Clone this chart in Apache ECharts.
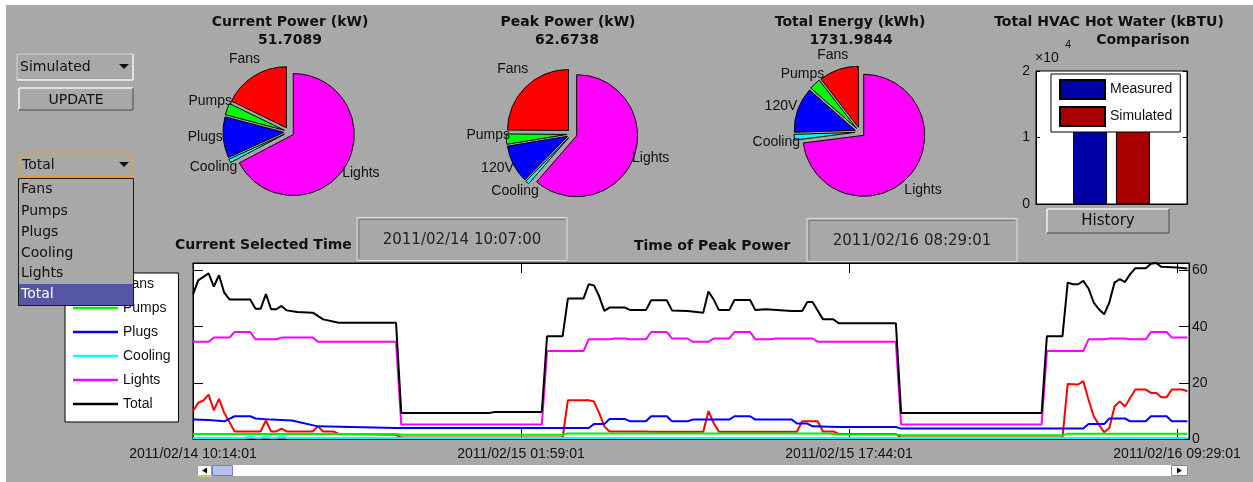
<!DOCTYPE html>
<html>
<head>
<meta charset="utf-8">
<script src="https://cdn.jsdelivr.net/npm/echarts@6/dist/echarts.min.js"></script>
<style>
html,body{margin:0;padding:0;background:#fff;}
#wrap{position:relative;width:1253px;height:482px;background:#fff;overflow:hidden;}
#panel{position:absolute;left:6px;top:5px;right:0;bottom:0;background:#a8a8a8;}
#chart{position:absolute;left:0;top:0;width:1253px;height:482px;}
</style>
</head>
<body>
<div id="wrap"><div id="panel"></div><div id="chart"></div></div>
<script>
// ---------------- DATA ----------------
const pieCategories = ['Fans', 'Pumps', 'Plugs', 'Cooling', 'Lights'];
const pieLabelsPeak = ['Fans', 'Pumps', '120V', 'Cooling', 'Lights'];
const currentPowerValues = [9.2, 1.6, 5.6, 0.5, 34.8];
const peakPowerValues = [15.6, 1.7, 6.3, 0.6, 38.47];
const totalEnergyValues = [182, 52, 208, 26, 1264];
const currentPowerTotal = '51.7089';
const peakPowerTotal = '62.6738';
const totalEnergyTotal = '1731.9844';

const hvacCategories = ['Measured', 'Simulated'];
const hvacValues = [12300, 12100];
const hvacTickLabels = ['0', '1', '2'];

const timeTickLabels = ['2011/02/14 10:14:01', '2011/02/15 01:59:01', '2011/02/15 17:44:01', '2011/02/16 09:29:01'];
const currentSelectedTime = '2011/02/14 10:07:00';
const peakPowerTime = '2011/02/16 08:29:01';
const dropdownItems = ['Fans', 'Pumps', 'Plugs', 'Cooling', 'Lights', 'Total'];

// [15-minute step index, kW]
const fansLine = [[0,9.9],[1,12.9],[2,13.7],[3,15.8],[4,10.2],[5,14.3],[6,9.3],[8,2.7],[13,2.7],[14,6.6],[15,2.7],[16,2.7],[17,3.7],[18,2.7],[23,2.7],[24,4.5],[25,2.7],[27,2.7],[28,1.8],[39,1.5],[40,0.5],[71,0.5],[72,13.8],[76,13.8],[77,13.4],[78,9.3],[79,4.5],[80,2.7],[87,2.7],[88,2.6],[98,2.6],[99,9.9],[100,5.7],[101,2.6],[116,2.6],[117,6.3],[120,6.3],[121,2.7],[123,2.7],[124,1.8],[135,1.8],[136,0.5],[167,0.5],[168,19.6],[170,19.4],[171,20.6],[172,14],[173,8.1],[174,5.1],[175,2.4],[176,3.9],[177,11.6],[178,13.4],[179,11.6],[180,14.6],[181,17.6],[183,17.6],[184,16.4],[185,16.4],[186,14.9],[187,14.9],[188,17.6],[190,17.6],[191,17]];
const pumpsLine = [[0,1.8],[39,1.8],[40,1.5],[71,1.5],[72,2.0],[122,2.0],[124,1.6],[135,1.6],[136,1.3],[167,1.3],[168,1.9],[191,1.9]];
const plugsLine = [[0,6.9],[3,6.8],[6,6.3],[8,8.1],[11,8.1],[12,7.3],[15,6.9],[19,6.6],[24,4.5],[39,3.9],[76,3.9],[77,5.3],[79,5.3],[80,7.1],[83,7.1],[84,6.3],[87,6.3],[88,8.1],[91,8.1],[92,6.3],[95,6.3],[96,6.9],[103,6.9],[104,8.1],[107,8.1],[108,6.9],[115,6.9],[116,5.5],[118,5.5],[119,4.5],[124,4.3],[135,4.3],[136,3.7],[171,3.7],[172,5.3],[175,5.3],[176,7.3],[179,7.3],[180,6.3],[183,6.3],[184,8.1],[187,8.1],[188,6.3],[191,6.3]];
const coolingLine = [[0,0.4],[10,0.4],[11,0.9],[12,0.4],[13,0.4],[14,0.9],[15,0.4],[16,0.4],[17,0.9],[18,0.4],[191,0.4]];
const lightsLine = [[0,34.6],[3,34.6],[4,36.1],[7,36.1],[8,38.1],[11,38.1],[12,35.5],[16,35.5],[17,36.1],[23,36.1],[24,34.6],[39,34.6],[40,5.2],[67,5.2],[68,31.3],[75,31.3],[76,35.5],[80,35.5],[81,35.8],[83,35.8],[84,35.5],[87,35.5],[88,38.1],[91,38.1],[92,35.8],[95,35.8],[96,34.6],[99,34.6],[100,35.8],[103,35.8],[104,38.1],[107,38.1],[108,35.5],[111,35.5],[112,35.8],[119,35.8],[120,34.6],[135,34.6],[136,5.2],[163,5.2],[164,31.3],[171,31.3],[172,35.5],[175,35.5],[176,35.8],[179,35.8],[180,35.5],[183,35.5],[184,38.1],[187,38.1],[188,36.1],[191,36.1]];
const totalLine = [[0,51.5],[1,56.5],[3,59],[4,54.3],[5,58.3],[6,52.1],[7,49.7],[11,49.7],[12,46.4],[13,46.4],[14,51.6],[15,46.2],[16,46.2],[17,47.4],[18,45.8],[20,45.2],[23,45],[25,42.6],[28,41.4],[39,41.4],[40,9.3],[57,9.3],[58,9.6],[67,9.6],[68,36.6],[71,36.6],[72,50],[75,50],[76,55.1],[77,54.7],[78,50.9],[79,45.6],[80,46.8],[83,46.8],[84,45.9],[87,45.9],[88,49.4],[91,49.4],[92,45.8],[95,45.6],[98,45],[99,52.5],[100,49.7],[101,45.9],[103,45.9],[104,49.5],[107,49.5],[108,45.9],[110,46.2],[115,45.6],[117,45.6],[118,48.8],[119,48.8],[121,42.6],[123,42.6],[124,41.2],[135,41.2],[136,9.3],[163,9.3],[164,36.6],[167,36.6],[168,55.7],[169,55.1],[170,55.1],[171,56.3],[172,53.6],[173,48.6],[174,46.2],[175,44.4],[176,48.6],[177,55.7],[178,56.9],[179,55.9],[180,58.7],[181,60.8],[183,60.8],[184,62.4],[185,62.67],[186,61.3],[189,61.1],[191,60.7]];

// ---------------- STYLE / LAYOUT ----------------
const GRAY = '#a8a8a8';
const INK = '#111';
const SERIF_UI = '"DejaVu Sans", sans-serif';
const HELV = '"Liberation Sans", Arial, sans-serif';
const pieColors = ['#ff0000', '#00ff00', '#0000ff', '#00ffff', '#ff00ff'];
const lineColors = {Fans:'#ff0000', Pumps:'#00ee00', Plugs:'#0000ff', Cooling:'#00ffff', Lights:'#ff00ff', Total:'#000000'};
const STEP_TICK = 63;
const PIE_R = 61;
const PIE_LABEL_R = 84;

const chart = echarts.init(document.getElementById('chart'), null, {renderer: 'canvas'});

// exploded pie (slices) + transparent twin pie carrying the labels
function makePie(center, names, values, labelDy) {
  const tot = values.reduce((a, b) => a + b, 0);
  const base = {
    type: 'pie', center: center, radius: PIE_R, startAngle: 90, clockwise: false,
    avoidLabelOverlap: false, silent: true, emphasis: {disabled: true}
  };
  const slices = Object.assign({}, base, {
    selectedMode: 'multiple', selectedOffset: 5,
    label: {show: false}, labelLine: {show: false},
    itemStyle: {borderColor: '#000', borderWidth: 1},
    data: names.map((n, i) => ({name: n, value: values[i], selected: true, itemStyle: {color: pieColors[i]}}))
  });
  const labels = Object.assign({}, base, {
    selectedMode: false,
    itemStyle: {color: 'rgba(0,0,0,0)', borderWidth: 0},
    label: {show: true, position: 'outside', color: INK, fontFamily: HELV, fontSize: 14},
    labelLine: {show: false, length: 0, length2: 0},
    labelLayout: function (p) {
      const i = p.dataIndex;
      let before = 0;
      for (let j = 0; j < i; j++) before += values[j];
      const a = (before + values[i] / 2) / tot * Math.PI * 2;
      return {x: center[0] - PIE_LABEL_R * Math.sin(a), y: center[1] + labelDy - PIE_LABEL_R * Math.cos(a), align: 'center', verticalAlign: 'middle'};
    },
    data: names.map((n, i) => ({name: n, value: values[i]}))
  });
  return [slices, labels];
}

const G = [];
function T(x, y, text, o) {
  o = o || {};
  G.push({type: 'text', x: x, y: y, z: 100, silent: true, style: {
    text: text, fill: o.fill || INK, font: o.font || ('14px ' + SERIF_UI),
    textAlign: o.align || 'left', textVerticalAlign: 'middle', align: o.align || 'left', verticalAlign: 'middle'
  }});
}
function R(x, y, w, h, fill, stroke, lw) {
  G.push({type: 'rect', z: 100, silent: true, shape: {x: x, y: y, width: w, height: h},
    style: {fill: fill || 'none', stroke: stroke || 'none', lineWidth: lw || 1}});
}
function L(x1, y1, x2, y2, stroke, lw) {
  G.push({type: 'line', z: 100, silent: true, shape: {x1: x1, y1: y1, x2: x2, y2: y2},
    style: {stroke: stroke, lineWidth: lw || 1}});
}
function P(points, fill) {
  G.push({type: 'polygon', z: 100, silent: true, shape: {points: points}, style: {fill: fill}});
}
function bevel(x, y, w, h, light, dark) {
  L(x, y, x + w, y, light, 1.5); L(x, y, x, y + h, light, 1.5);
  L(x + w, y, x + w, y + h, dark, 1.5); L(x, y + h, x + w, y + h, dark, 1.5);
}

// titles
const BOLD = 'bold 14px ' + SERIF_UI;
T(290, 22, 'Current Power (kW)', {align: 'center', font: BOLD});
T(290, 40, currentPowerTotal, {align: 'center', font: BOLD});
T(568, 22, 'Peak Power (kW)', {align: 'center', font: BOLD});
T(567, 40, peakPowerTotal, {align: 'center', font: BOLD});
T(850, 22, 'Total Energy (kWh)', {align: 'center', font: BOLD});
T(851, 40, totalEnergyTotal, {align: 'center', font: BOLD});
T(1109, 22, 'Total HVAC Hot Water (kBTU)', {align: 'center', font: BOLD});
T(1143, 40, 'Comparison', {align: 'center', font: BOLD});
T(1035, 58, '×10', {font: '14px ' + HELV});
T(1065, 45, '4', {font: '11px ' + HELV});

// Simulated combobox
bevel(17, 54, 116, 26, '#c4c4c4', '#f4f4f4');
T(20, 67, 'Simulated');
P([[119, 64], [129, 64], [124, 69]], INK);
// UPDATE button
R(19, 88, 114, 22, GRAY);
bevel(19, 88, 114, 22, '#f2f2f2', '#6a6a6a');
T(76, 100, 'UPDATE', {align: 'center'});
// Total combobox
R(19.5, 153.5, 112, 23, GRAY, '#e6a030', 1.5);
T(22, 165, 'Total');
P([[119, 162], [129, 162], [124, 167]], INK);
// dropdown list
R(18.5, 178.5, 115, 127, GRAY, '#1a1a1a', 1);
R(19, 284, 114, 21, '#5656a6');
const ddY = [189, 211, 232, 253, 273, 294];
dropdownItems.forEach((s, i) => T(21, ddY[i], s, {fill: i === 5 ? '#ffffff' : INK}));

// time labels
T(175, 245, 'Current Selected Time', {font: BOLD});
R(357, 217.5, 210, 43, 'none', '#dcdcdc', 1);
L(359, 219.5, 565, 219.5, '#7c7c7c', 1); L(359, 219.5, 359, 258.5, '#7c7c7c', 1);
T(462, 240, currentSelectedTime, {align: 'center', font: '15px ' + SERIF_UI, fill: '#222'});
T(634, 246, 'Time of Peak Power', {font: BOLD});
R(807, 218.5, 210, 43, 'none', '#dcdcdc', 1);
L(809, 220.5, 1015, 220.5, '#7c7c7c', 1); L(809, 220.5, 809, 259.5, '#7c7c7c', 1);
T(912, 241, peakPowerTime, {align: 'center', font: '15px ' + SERIF_UI, fill: '#222'});

// History button
R(1047, 209, 122, 24, GRAY);
bevel(1047, 209, 122, 24, '#f2f2f2', '#6a6a6a');
T(1108, 221, 'History', {align: 'center', font: '15px ' + SERIF_UI});

// scrollbar
R(197, 465, 991, 11, '#ffffff');
R(197.5, 465.5, 14, 10, '#ffffff', '#999', 1);
L(197, 476, 212, 476, '#e2d040', 1.5);
P([[202, 470.5], [207, 467.5], [207, 473.5]], '#000');
R(212.5, 465.5, 20, 10, '#b8c0f0', '#7080c8', 1);
R(1171.5, 465.5, 16, 10, '#ffffff', '#888', 1);
P([[1177, 467.5], [1177, 473.5], [1182, 470.5]], '#000');

const lineSeriesDefs = [
  ['Fans', fansLine], ['Pumps', pumpsLine], ['Plugs', plugsLine],
  ['Cooling', coolingLine], ['Lights', lightsLine], ['Total', totalLine]
];

const AXL = {show: true, onZero: false, lineStyle: {color: '#000'}};
const tickIn = len => ({show: true, inside: true, length: len, lineStyle: {color: '#000'}});

const option = {
  animation: false,
  backgroundColor: 'transparent',
  textStyle: {fontFamily: HELV},
  grid: [
    {left: 193, top: 263, width: 996, height: 176, show: true, backgroundColor: '#fff', borderColor: '#000', borderWidth: 1},
    {left: 1036, top: 71, width: 151, height: 133, show: true, backgroundColor: '#fff', borderColor: '#000', borderWidth: 1}
  ],
  legend: [
    {
      left: 65, top: 273, orient: 'vertical', selectedMode: false,
      backgroundColor: '#fff', borderColor: '#000', borderWidth: 1, borderRadius: 0,
      padding: [4, 8, 11, 8], itemGap: 10, itemWidth: 45, itemHeight: 2.5, icon: 'rect',
      textStyle: {color: INK, fontSize: 14, fontFamily: HELV},
      data: lineSeriesDefs.map(d => d[0])
    },
    {
      left: 1051, top: 74, orient: 'vertical', selectedMode: false,
      backgroundColor: '#fff', borderColor: '#000', borderWidth: 1, borderRadius: 0,
      padding: [5, 8, 5, 8], itemGap: 6, itemWidth: 45, itemHeight: 19, icon: 'rect',
      textStyle: {color: INK, fontSize: 14, fontFamily: HELV},
      data: hvacCategories
    }
  ],
  xAxis: [
    {
      gridIndex: 0, type: 'value', min: 0, max: 191.3, interval: STEP_TICK, position: 'bottom',
      axisLine: AXL, axisTick: tickIn(10), splitLine: {show: false},
      axisLabel: {
        show: true, color: INK, fontSize: 14, fontFamily: HELV, margin: 8, showMaxLabel: false,
        formatter: v => { const k = Math.round(v / STEP_TICK); return (Math.abs(v - k * STEP_TICK) < 0.01 && timeTickLabels[k]) ? timeTickLabels[k] : ''; }
      }
    },
    {
      gridIndex: 0, type: 'value', min: 0, max: 191.3, interval: STEP_TICK, position: 'top',
      axisLine: AXL, axisTick: tickIn(10), splitLine: {show: false}, axisLabel: {show: false}
    },
    {
      gridIndex: 1, type: 'category', data: ['HVAC'],
      axisLine: AXL, axisTick: {show: false}, axisLabel: {show: false}, splitLine: {show: false}
    }
  ],
  yAxis: [
    {
      gridIndex: 0, type: 'value', min: 0, max: 62.6738, interval: 20, position: 'right',
      axisLine: AXL, axisTick: tickIn(10), splitLine: {show: false},
      axisLabel: {color: INK, fontSize: 14, fontFamily: HELV, margin: 3, showMaxLabel: false,
        formatter: v => (Math.abs(v % 20) < 1e-6 ? String(v) : '')}
    },
    {
      gridIndex: 0, type: 'value', min: 0, max: 62.6738, interval: 20, position: 'left',
      axisLine: AXL, axisTick: tickIn(10), splitLine: {show: false}, axisLabel: {show: false}
    },
    {
      gridIndex: 1, type: 'value', min: 0, max: 20000, interval: 10000, position: 'left',
      axisLine: AXL, axisTick: tickIn(4), splitLine: {show: false},
      axisLabel: {color: INK, fontSize: 14, fontFamily: HELV, margin: 6,
        formatter: v => hvacTickLabels[Math.round(v / 10000)]}
    },
    {
      gridIndex: 1, type: 'value', min: 0, max: 20000, interval: 10000, position: 'right',
      axisLine: AXL, axisTick: tickIn(4), splitLine: {show: false}, axisLabel: {show: false}
    }
  ],
  series: [
    ...lineSeriesDefs.map(d => ({
      type: 'line', name: d[0], xAxisIndex: 0, yAxisIndex: 0, data: d[1],
      symbol: 'none', silent: true, clip: true, color: lineColors[d[0]],
      lineStyle: {width: 2, color: lineColors[d[0]]}
    })),
    {type: 'bar', name: hvacCategories[0], xAxisIndex: 2, yAxisIndex: 2, data: [hvacValues[0]], barWidth: 34, barGap: '26%',
      color: '#0000a8', itemStyle: {color: '#0000a8', borderColor: '#000', borderWidth: 1}, silent: true},
    {type: 'bar', name: hvacCategories[1], xAxisIndex: 2, yAxisIndex: 2, data: [hvacValues[1]], barWidth: 34, barGap: '26%',
      color: '#a80000', itemStyle: {color: '#a80000', borderColor: '#000', borderWidth: 1}, silent: true},
    ...makePie([289, 132], pieCategories, currentPowerValues, -2),
    ...makePie([572, 134], pieLabelsPeak, peakPowerValues, -5),
    ...makePie([860, 132], pieLabelsPeak, totalEnergyValues, 3)
  ],
  graphic: {elements: G}
};
chart.setOption(option);
</script>
</body>
</html>
